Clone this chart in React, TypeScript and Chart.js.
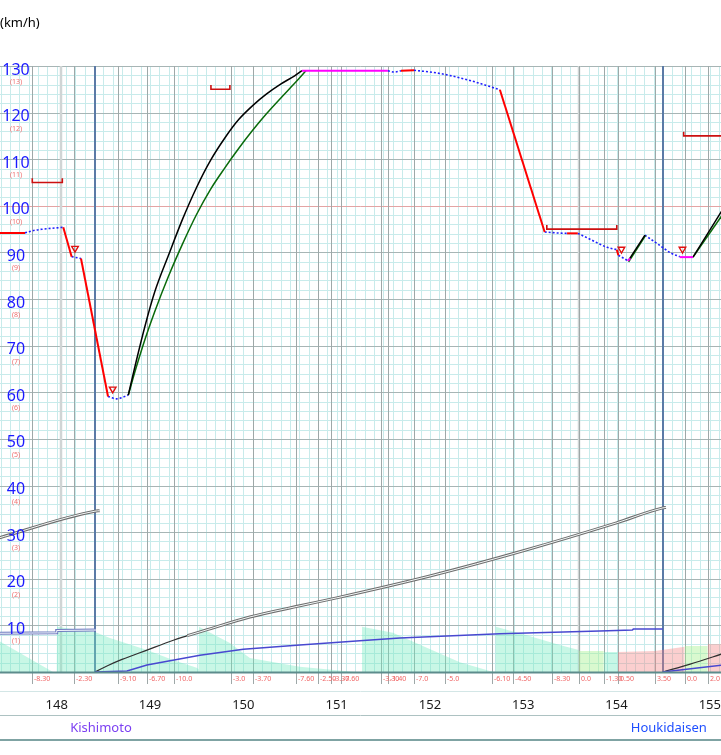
import React, { useEffect, useRef } from 'react';
import { Chart, registerables } from 'chart.js';

Chart.register(...registerables);

// ---------- axis ranges & ticks ----------
const X_MIN = 147.392;
const X_MAX = 155.12;
const Y_MIN = 0;
const Y_MAX = 130;

const speedTickValues = [10, 20, 30, 40, 50, 60, 70, 80, 90, 100, 110, 120, 130];
const speedSubLabels = ['(1)', '(2)', '(3)', '(4)', '(5)', '(6)', '(7)', '(8)', '(9)', '(10)', '(11)', '(12)', '(13)'];
const kmTickValues = [148, 149, 150, 151, 152, 153, 154, 155];

// ---------- stations ----------
const stationKm = [148.41, 154.496];
const stationNames = ['Kishimoto', 'Houkidaisen'];

// ---------- gradient change points ----------
const gradientKm = [147.735, 148.185, 148.656, 148.967, 149.256, 149.867, 150.103, 150.564, 150.799, 150.938, 151.046,
  151.474, 151.549, 151.828, 152.16, 152.664, 152.889, 153.306, 153.596, 153.864, 154.014, 154.41, 154.731, 154.978];
const gradientLabels = ['-8.30', '-2.30', '-9.10', '-6.70', '-10.0', '-3.0', '-3.70', '-7.60', '-2.50', '-3.30', '-7.60',
  '-3.30', '-1.40', '-7.0', '-5.0', '-6.10', '-4.50', '-8.30', '0.0', '-1.30', '0.50', '3.50', '0.0', '2.0'];
const levelMarkKm = [148.05, 153.596];

// ---------- speed profile (km, km/h) ----------
const brakeSegments = [
  [[147.30, 94.2], [147.66, 94.2]],
  [[148.07, 95.4], [148.16, 89.1]],
  [[148.26, 88.7], [148.55, 59.1]],
  [[151.69, 129.0], [151.83, 129.1]],
  [[152.75, 124.9], [153.23, 94.4]],
  [[153.47, 94.1], [153.585, 94.1]],
  [[154.003, 90.6], [154.02, 89.4]],
];
const coastSegments = [
  [[147.66, 94.2], [147.75, 94.7], [147.85, 95.0], [147.95, 95.2], [148.07, 95.4]],
  [[148.16, 89.1], [148.26, 88.7]],
  [[148.55, 59.1], [148.64, 58.6], [148.767, 59.4]],
  [[151.55, 129.0], [151.62, 128.7], [151.69, 129.0]],
  [[151.83, 129.1], [152.106, 128.4], [152.428, 126.9], [152.75, 124.9]],
  [[153.23, 94.4], [153.35, 94.2], [153.47, 94.1]],
  [[153.585, 94.1], [153.70, 93.0], [153.80, 92.0], [153.90, 91.1], [154.003, 90.6]],
  [[154.02, 89.4], [154.125, 88.2]],
  [[154.305, 93.7], [154.40, 92.4], [154.50, 91.0], [154.58, 89.9], [154.678, 89.1]],
];
const powerSegments = [
  [[148.767, 59.4], [148.85, 66.5], [148.95, 74.5], [149.05, 81.5], [149.20, 89.5], [149.35, 97.2],
    [149.50, 104.0], [149.65, 109.8], [149.80, 114.5], [149.95, 118.5], [150.10, 121.5], [150.25, 124.0],
    [150.40, 126.1], [150.55, 127.9], [150.628, 129.0]],
  [[154.125, 88.2], [154.305, 93.7]],
  [[154.82, 89.0], [155.15, 99.6]],
];
const notchSegments = [
  [[148.767, 59.4], [148.85, 65.2], [148.95, 71.6], [149.05, 77.3], [149.20, 85.0], [149.35, 91.9],
    [149.50, 98.2], [149.65, 103.6], [149.80, 108.1], [149.95, 112.3], [150.10, 116.2], [150.25, 119.8],
    [150.40, 123.1], [150.55, 126.3], [150.671, 129.0]],
  [[154.13, 88.0], [154.31, 93.6]],
  [[154.82, 89.0], [155.15, 98.5]],
];
const constantSegments = [
  [[150.628, 129.0], [151.55, 129.0]],
  [[154.12, 88.2], [154.15, 88.7]],
  [[154.678, 89.0], [154.82, 89.0]],
];

// ---------- speed limits ----------
const limitStartKm = [147.738, 149.653, 153.253, 154.72];
const limitEndKm = [148.06, 149.856, 154.003, 155.3];
const limitSpeed = [105, 125, 95, 115];

// ---------- stop/brake markers ----------
const markerKm = [148.196, 148.60, 154.053, 154.707];
const markerSpeed = [90.9, 60.7, 90.7, 90.7];

// ---------- running time curve (scaled to speed axis) ----------
const timeDoubleSegments = [
  [[147.30, 28.3], [148.41, 34.5], [148.46, 34.6]],
  [[149.40, 7.8], [149.535, 8.6], [150.07, 11.8], [150.606, 14.2], [151.0, 15.9], [152.0, 20.6],
    [153.0, 26.0], [154.0, 32.0], [154.496, 35.2], [154.53, 35.3]],
];
const timeSingleSegments = [
  [[148.41, 0], [148.55, 1.4], [148.70, 2.7], [148.967, 4.7], [149.25, 6.8], [149.40, 7.8]],
  [[154.496, 0], [154.79, 1.7], [155.15, 4.0]],
];

// ---------- energy curve (scaled to speed axis) ----------
const energyDoubleSegments = [
  [[147.30, 8.3], [148.0, 8.4], [148.0, 8.9], [148.42, 9.0]],
];
const energySingleSegments = [
  [[148.41, 0], [148.753, 0.2], [148.967, 1.5], [149.535, 3.6], [150.0, 4.9], [150.606, 5.8], [151.249, 6.7],
    [151.678, 7.3], [152.749, 8.2], [153.821, 8.8], [154.17, 9.0], [154.18, 9.2], [154.496, 9.2]],
  [[154.496, 0], [155.15, 1.5]],
];

// ---------- gradient / resistance fill ----------
const mintFill = [
  [147.30, 7.6], [147.96, 0], [148.0, 0], [148.003, 9.7], [148.41, 8.6], [148.57, 7.3], [148.967, 4.7],
  [149.246, 2.6], [149.50, 0.9], [149.52, 0.6], [149.525, 9.7], [149.856, 6.2], [150.07, 3.0], [150.606, 1.1],
  [151.196, 0], [151.27, 0], [151.272, 9.7], [151.603, 8.4], [151.967, 5.2], [152.321, 2.1], [152.642, 0.2],
  [152.704, 0], [152.706, 9.7], [153.039, 7.9], [153.392, 5.8], [153.596, 4.7], [153.596, 0],
];
const mintFill2 = [[153.864, 4.3], [154.014, 4.3]];
const levelFill1 = [[153.596, 4.5], [153.864, 4.5]];
const levelFill2 = [[154.731, 5.6], [154.978, 5.6]];
const upFill1 = [[154.014, 4.3], [154.41, 4.5], [154.731, 5.4]];
const upFill2 = [[154.978, 6.0], [155.2, 6.0]];

const FONT = "'Noto Sans', 'Open Sans', sans-serif";

const toXY = (pts: number[][]) => pts.map(([x, y]) => ({ x, y }));

function lineDs(pts: number[][], color: string, width: number, order: number, extra: any = {}) {
  return {
    type: 'line',
    data: toXY(pts),
    borderColor: color,
    backgroundColor: color,
    borderWidth: width,
    pointRadius: 0,
    fill: false,
    tension: 0,
    order,
    ...extra,
  };
}

function fillDs(pts: number[][], color: string) {
  return {
    type: 'line',
    data: toXY(pts),
    borderWidth: 0,
    borderColor: 'rgba(0,0,0,0)',
    backgroundColor: color,
    pointRadius: 0,
    fill: 'origin',
    tension: 0,
    order: 100,
  };
}

const runGridPlugin = {
  id: 'runGrid',
  beforeDatasetsDraw(chart: any) {
    const { ctx, chartArea: a, scales } = chart;
    const x = scales.x;
    const y = scales.y;
    ctx.save();
    const vline = (px: number, top: number, bottom: number) => {
      ctx.beginPath();
      ctx.moveTo(px, top);
      ctx.lineTo(px, bottom);
      ctx.stroke();
    };
    const hline = (py: number) => {
      ctx.beginPath();
      ctx.moveTo(a.left, py);
      ctx.lineTo(a.right, py);
      ctx.stroke();
    };
    // minor grid
    ctx.lineWidth = 1;
    ctx.strokeStyle = '#c8ebeb';
    for (let k = Math.ceil(X_MIN * 10); k <= Math.floor(X_MAX * 10); k++) {
      vline(Math.round(x.getPixelForValue(k / 10)) + 0.5, a.top, a.bottom);
    }
    for (let v = Y_MIN; v <= Y_MAX; v += 2) {
      hline(Math.round(y.getPixelForValue(v)) + 0.5);
    }
    // major horizontals
    speedTickValues.forEach((v) => {
      ctx.strokeStyle = v === 100 ? '#e3a4a4' : '#a7b5b5';
      hline(Math.round(y.getPixelForValue(v)) + 0.5);
    });
    // level marks
    ctx.strokeStyle = '#d0d5d5';
    ctx.lineWidth = 2.5;
    levelMarkKm.forEach((k) => vline(Math.round(x.getPixelForValue(k)), a.top, a.bottom));
    // gradient change lines
    ctx.strokeStyle = '#9ea8a8';
    ctx.lineWidth = 1;
    gradientKm.forEach((k) => vline(Math.round(x.getPixelForValue(k)) + 0.5, a.top, a.bottom + 12));
    // station lines
    ctx.strokeStyle = '#5b7aa6';
    ctx.lineWidth = 2;
    stationKm.forEach((k) => vline(Math.round(x.getPixelForValue(k)), a.top, a.bottom));
    ctx.restore();
  },
  afterDraw(chart: any) {
    const { ctx, chartArea: a, scales, width } = chart;
    const x = scales.x;
    const y = scales.y;
    ctx.save();
    // unit
    ctx.fillStyle = '#000';
    ctx.font = `13px ${FONT}`;
    ctx.textAlign = 'left';
    ctx.textBaseline = 'middle';
    ctx.fillText('(km/h)', 0, 23);
    // speed labels
    ctx.textAlign = 'center';
    speedTickValues.forEach((v, i) => {
      const py = y.getPixelForValue(v);
      ctx.fillStyle = '#1a1aff';
      ctx.font = `16px ${FONT}`;
      ctx.fillText(String(v), 16, py + 4);
      ctx.fillStyle = '#f07070';
      ctx.font = `7px ${FONT}`;
      ctx.fillText(speedSubLabels[i], 16, py + 16);
    });
    // axis line
    ctx.strokeStyle = '#5d8c8c';
    ctx.lineWidth = 2;
    ctx.beginPath();
    ctx.moveTo(0, a.bottom + 0.5);
    ctx.lineTo(width, a.bottom + 0.5);
    ctx.stroke();
    // gradient labels
    ctx.fillStyle = '#f06464';
    ctx.font = `7px ${FONT}`;
    ctx.textAlign = 'left';
    gradientKm.forEach((k, i) => {
      ctx.fillText(gradientLabels[i], Math.round(x.getPixelForValue(k)) + 2, a.bottom + 7);
    });
    // separators
    const sep = (py: number, color: string, w: number) => {
      ctx.strokeStyle = color;
      ctx.lineWidth = w;
      ctx.beginPath();
      ctx.moveTo(0, py);
      ctx.lineTo(width, py);
      ctx.stroke();
    };
    sep(a.bottom + 19.5, '#d3e6e6', 1);
    sep(a.bottom + 43.5, '#adc2c2', 1);
    sep(a.bottom + 68, '#7fa3a3', 2);
    // km labels
    ctx.fillStyle = '#1a1a1a';
    ctx.font = `13px ${FONT}`;
    ctx.textAlign = 'center';
    kmTickValues.forEach((k) => {
      ctx.fillText(String(k), x.getPixelForValue(k), a.bottom + 33);
    });
    // station names
    const stationColors = ['#7b3ff2', '#1f4fff'];
    stationKm.forEach((k, i) => {
      ctx.fillStyle = stationColors[i];
      ctx.fillText(stationNames[i], x.getPixelForValue(k) + 6, a.bottom + 56);
    });
    ctx.restore();
  },
};

export default function App() {
  const canvasRef = useRef<HTMLCanvasElement | null>(null);

  useEffect(() => {
    document.body.style.margin = '0';
    const canvas = canvasRef.current;
    if (!canvas) return;

    const datasets: any[] = [];
    // fills
    datasets.push(fillDs(mintFill, 'rgba(110, 235, 190, 0.38)'));
    datasets.push(fillDs(mintFill2, 'rgba(110, 235, 190, 0.38)'));
    datasets.push(fillDs(levelFill1, 'rgba(165, 240, 140, 0.42)'));
    datasets.push(fillDs(levelFill2, 'rgba(165, 240, 140, 0.42)'));
    datasets.push(fillDs(upFill1, 'rgba(245, 130, 130, 0.38)'));
    datasets.push(fillDs(upFill2, 'rgba(245, 130, 130, 0.38)'));

    // time curve
    timeDoubleSegments.forEach((s) => {
      datasets.push(lineDs(s, '#6e6e6e', 3, 61, { cubicInterpolationMode: 'monotone' }));
      datasets.push(lineDs(s, '#f4f8f8', 1, 60, { cubicInterpolationMode: 'monotone' }));
    });
    timeSingleSegments.forEach((s) => datasets.push(lineDs(s, '#303030', 1.2, 59, { cubicInterpolationMode: 'monotone' })));

    // energy curve
    energyDoubleSegments.forEach((s) => {
      datasets.push(lineDs(s, '#6f7cc0', 3, 58));
      datasets.push(lineDs(s, '#f4f6fc', 1, 57));
    });
    energySingleSegments.forEach((s) => datasets.push(lineDs(s, '#4848d0', 1.5, 56)));

    // speed limits
    limitSpeed.forEach((v, i) => {
      const pts = [[limitStartKm[i], v + 0.9], [limitStartKm[i], v], [limitEndKm[i], v], [limitEndKm[i], v + 0.9]];
      datasets.push(lineDs(pts, '#cc1010', 1.6, 20));
    });

    // speed profile
    coastSegments.forEach((s) => datasets.push(lineDs(s, '#1f1fff', 1.6, 15, { borderDash: [2, 2], cubicInterpolationMode: 'monotone' })));
    notchSegments.forEach((s) => datasets.push(lineDs(s, '#0a6a0a', 1.5, 14, { cubicInterpolationMode: 'monotone' })));
    powerSegments.forEach((s) => datasets.push(lineDs(s, '#000000', 1.5, 13, { cubicInterpolationMode: 'monotone' })));
    constantSegments.forEach((s) => datasets.push(lineDs(s, '#ff00ff', 2, 12)));
    brakeSegments.forEach((s) => datasets.push(lineDs(s, '#ff0000', 2, 11)));

    // markers
    datasets.push({
      type: 'scatter',
      data: markerKm.map((k, i) => ({ x: k, y: markerSpeed[i] })),
      pointStyle: 'triangle',
      rotation: 180,
      pointRadius: 3.8,
      borderColor: '#e01010',
      backgroundColor: 'rgba(255,255,255,0)',
      borderWidth: 1.4,
      showLine: false,
      order: 1,
    });

    const chart = new Chart(canvas, {
      type: 'line',
      data: { datasets },
      options: {
        animation: false,
        responsive: false,
        devicePixelRatio: 1,
        layout: { autoPadding: false, padding: { left: 0, right: 0, top: 66, bottom: 83 } },
        scales: {
          x: { type: 'linear', min: X_MIN, max: X_MAX, display: false },
          y: { type: 'linear', min: Y_MIN, max: Y_MAX, display: false },
        },
        plugins: { legend: { display: false }, tooltip: { enabled: false } },
        elements: { point: { radius: 0 } },
      },
      plugins: [runGridPlugin],
    } as any);

    return () => chart.destroy();
  }, []);

  return (
    <div style={{ position: 'absolute', left: 0, top: 0, width: 721, height: 755, background: '#fff' }}>
      <canvas ref={canvasRef} width={721} height={755} style={{ display: 'block', width: 721, height: 755 }} />
    </div>
  );
}
